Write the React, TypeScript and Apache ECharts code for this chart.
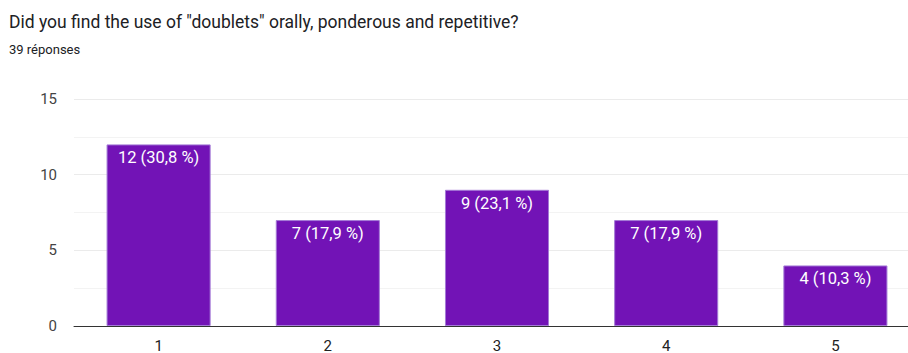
import React, { useEffect, useRef } from "react";
import * as echarts from "echarts";

const titleText = 'Did you find the use of "doublets" orally, ponderous and repetitive?';
const subtitleText = "39 réponses";
const categories = ["1", "2", "3", "4", "5"];
const counts = [12, 7, 9, 7, 4];
const percents = ["30,8", "17,9", "23,1", "17,9", "10,3"];
const yTicks = [0, 5, 10, 15];

export default function App() {
  const ref = useRef<HTMLDivElement>(null);
  useEffect(() => {
    if (!ref.current) return;
    const chart = echarts.init(ref.current, null, { renderer: "svg" });
    chart.setOption({
      animation: false,
      backgroundColor: "#ffffff",
      textStyle: { fontFamily: "Roboto" },
      title: [
        {
          text: titleText,
          left: 4,
          top: 8,
          textStyle: { fontFamily: "Roboto", fontSize: 17.5, fontWeight: "normal", color: "#202124" },
        },
        {
          text: subtitleText,
          left: 4,
          top: 38,
          textStyle: { fontFamily: "Roboto", fontSize: 13, fontWeight: "normal", color: "#202124" },
        },
      ],
      grid: { left: 74, right: 0, top: 99, bottom: 22, containLabel: false },
      xAxis: {
        type: "category",
        data: categories,
        axisTick: { show: false },
        axisLine: { lineStyle: { color: "#333333", width: 1 } },
        axisLabel: { color: "#222222", fontSize: 15, fontFamily: "Roboto", margin: 12 },
      },
      yAxis: {
        type: "value",
        min: yTicks[0],
        max: yTicks[yTicks.length - 1],
        interval: 5,
        axisLine: { show: false },
        axisTick: { show: false },
        axisLabel: { color: "#444444", fontSize: 15, fontFamily: "Roboto", margin: 17 },
        splitLine: { lineStyle: { color: "#ebebeb", width: 1 } },
        minorTick: { show: false, splitNumber: 2 },
        minorSplitLine: { show: true, lineStyle: { color: "#f3f3f3", width: 1 } },
      },
      series: [
        {
          type: "bar",
          data: counts,
          barCategoryGap: "38.5%",
          itemStyle: { color: "#7213b6", borderColor: "#a47ad6", borderWidth: 1 },
          label: {
            show: true,
            position: "insideTop",
            distance: 5,
            color: "#ffffff",
            fontSize: 16.5,
            fontFamily: "Roboto",
            formatter: (p: any) => `${counts[p.dataIndex]} (${percents[p.dataIndex]} %)`,
          },
        },
      ],
    });
    return () => chart.dispose();
  }, []);
  return (
    <div style={{ position: "fixed", left: 0, top: 0, width: 908, height: 353, overflow: "hidden", background: "#fff" }}>
      <div ref={ref} style={{ position: "absolute", left: 0, top: 0, width: 920, height: 353 }} />
    </div>
  );
}
